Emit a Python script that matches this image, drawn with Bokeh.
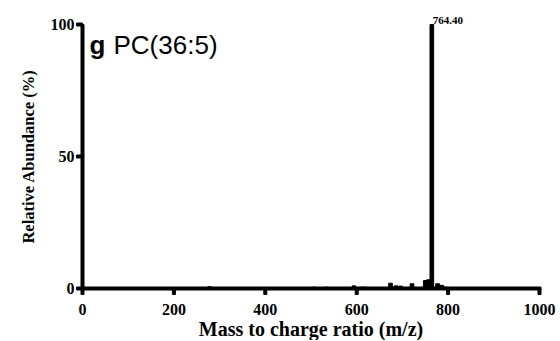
import math
from bokeh.plotting import figure
from bokeh.models import Range1d
from bokeh.core.properties import value
from bokeh.embed import file_html
from bokeh.resources import INLINE

# Data
mz = [278, 507, 534, 594, 610, 617, 626, 674, 686, 696, 721, 750, 757, 764.4, 777, 786, 795, 808, 820]
abundance = [0.7, 0.5, 0.5, 1.0, 0.5, 0.5, 0.3, 2.0, 1.0, 0.9, 1.8, 3.0, 3.3, 100, 1.8, 1.2, 0.5, 0.3, 0.2]
peak_mz = [764.40]
peak_abundance = [100]
x_ticks = [0, 200, 400, 600, 800, 1000]
y_ticks = [0, 50, 100]
x_label = "Mass to charge ratio (m/z)"
y_label = "Relative Abundance (%)"
panel_letter = "g"
panel_name = "PC(36:5)"

SERIF = "Liberation Serif"
SANS = "Liberation Sans"

# Layout (pixels): canvas size and the data-area corners
W, H = 556, 340
L, R, T, B = 82, 539, 24, 288
x0, x1 = x_ticks[0], x_ticks[-1]
y0, y1 = y_ticks[0], y_ticks[-1]
sx = (R - L) / (x1 - x0)
sy = (B - T) / (y1 - y0)
thick = 3  # axis line thickness in px

p = figure(width=W, height=H, output_backend="svg", toolbar_location=None,
           x_range=Range1d(x0 - L / sx, x1 + (W - R) / sx),
           y_range=Range1d(y0 - (H - B) / sy, y1 + T / sy),
           min_border=0, min_border_left=0, min_border_right=0,
           min_border_top=0, min_border_bottom=0)
p.axis.visible = False
p.grid.visible = False
p.outline_line_color = None

# Spectrum sticks
p.vbar(x=mz, top=abundance, bottom=0, width=8, color="black")

# Axis lines
p.vbar(x=[x0], bottom=y0 - thick / 2 / sy, top=y1, width=thick / sx, color="black")
p.hbar(y=[y0], left=x0 - thick / 2 / sx, right=x1 + thick / 2 / sx, height=thick / sy, color="black")

# Tick marks (6 px outward)
tick = 6
p.vbar(x=x_ticks, bottom=y0 - tick / sy, top=y0, width=thick / sx, color="black")
p.hbar(y=y_ticks, left=x0 - tick / sx, right=x0, height=thick / sy, color="black")

# Tick labels
p.text(x=x_ticks, y=[y0] * len(x_ticks), text=[str(t) for t in x_ticks],
       text_font=value(SERIF), text_font_style="bold", text_font_size="16px",
       text_color="black", text_align="center", text_baseline="top", y_offset=15)
p.text(x=[x0] * len(y_ticks), y=y_ticks, text=[str(t) for t in y_ticks],
       text_font=value(SERIF), text_font_style="bold", text_font_size="16px",
       text_color="black", text_align="right", text_baseline="middle", x_offset=-8)

# Axis titles
p.text(x=[(x0 + x1) / 2], y=[y0], text=[x_label],
       text_font=value(SERIF), text_font_style="bold", text_font_size="20px",
       text_color="black", text_align="center", text_baseline="alphabetic", y_offset=40)
p.text(x=[x0], y=[(y0 + y1) / 2], text=[y_label], angle=math.pi / 2,
       text_font=value(SERIF), text_font_style="bold", text_font_size="16.5px",
       text_color="black", text_align="center", text_baseline="middle", x_offset=-54)

# Peak annotation
p.text(x=peak_mz, y=peak_abundance, text=[f"{m:.2f}" for m in peak_mz],
       text_font=value(SERIF), text_font_style="bold", text_font_size="11px",
       text_color="black", text_align="left", text_baseline="alphabetic",
       x_offset=1, y_offset=-4)

# Panel title
p.text(x=[x0], y=[y1], text=[panel_letter], text_font=value(SANS), text_font_style="bold",
       text_font_size="26px", text_color="black", text_align="left",
       text_baseline="alphabetic", x_offset=7, y_offset=20)
p.text(x=[x0], y=[y1], text=[panel_name], text_font=value(SANS), text_font_style="normal",
       text_font_size="26px", text_color="black", text_align="left",
       text_baseline="alphabetic", x_offset=31, y_offset=20)

open("out.html", "w").write(file_html(p, INLINE))
